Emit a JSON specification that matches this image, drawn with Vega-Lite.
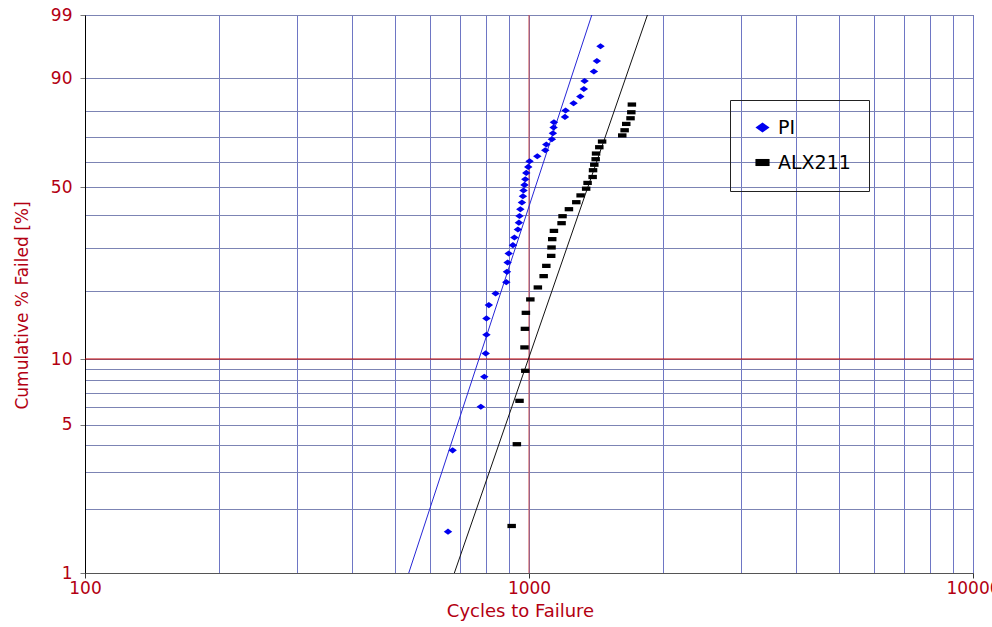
{
  "$schema": "https://vega.github.io/schema/vega-lite/v6.json",
  "width": 888,
  "height": 558,
  "autosize": "none",
  "padding": {"left": 85, "top": 15, "right": 19, "bottom": 54},
  "background": "white",
  "config": {
    "view": {"stroke": "#555555", "strokeWidth": 1},
    "font": "DejaVu Sans"
  },
  "datasets": {
    "points": [
      {"series": "PI", "cycles": 657, "failed": 1.57},
      {"series": "PI", "cycles": 673, "failed": 3.79},
      {"series": "PI", "cycles": 779, "failed": 6.05},
      {"series": "PI", "cycles": 793, "failed": 8.30},
      {"series": "PI", "cycles": 799, "failed": 10.60},
      {"series": "PI", "cycles": 802, "failed": 12.84},
      {"series": "PI", "cycles": 802, "failed": 15.17},
      {"series": "PI", "cycles": 812, "failed": 17.34},
      {"series": "PI", "cycles": 841, "failed": 19.46},
      {"series": "PI", "cycles": 889, "failed": 21.73},
      {"series": "PI", "cycles": 892, "failed": 23.99},
      {"series": "PI", "cycles": 895, "failed": 26.23},
      {"series": "PI", "cycles": 900, "failed": 28.52},
      {"series": "PI", "cycles": 920, "failed": 30.78},
      {"series": "PI", "cycles": 927, "failed": 32.98},
      {"series": "PI", "cycles": 944, "failed": 35.40},
      {"series": "PI", "cycles": 949, "failed": 37.55},
      {"series": "PI", "cycles": 952, "failed": 39.75},
      {"series": "PI", "cycles": 956, "failed": 42.07},
      {"series": "PI", "cycles": 964, "failed": 44.43},
      {"series": "PI", "cycles": 969, "failed": 46.72},
      {"series": "PI", "cycles": 972, "failed": 48.85},
      {"series": "PI", "cycles": 977, "failed": 50.97},
      {"series": "PI", "cycles": 981, "failed": 53.18},
      {"series": "PI", "cycles": 986, "failed": 55.65},
      {"series": "PI", "cycles": 996, "failed": 58.04},
      {"series": "PI", "cycles": 1003, "failed": 60.33},
      {"series": "PI", "cycles": 1044, "failed": 62.34},
      {"series": "PI", "cycles": 1088, "failed": 64.76},
      {"series": "PI", "cycles": 1094, "failed": 67.06},
      {"series": "PI", "cycles": 1126, "failed": 69.18},
      {"series": "PI", "cycles": 1132, "failed": 71.55},
      {"series": "PI", "cycles": 1136, "failed": 73.77},
      {"series": "PI", "cycles": 1138, "failed": 75.79},
      {"series": "PI", "cycles": 1205, "failed": 77.77},
      {"series": "PI", "cycles": 1209, "failed": 80.07},
      {"series": "PI", "cycles": 1260, "failed": 82.57},
      {"series": "PI", "cycles": 1305, "failed": 84.75},
      {"series": "PI", "cycles": 1329, "failed": 87.05},
      {"series": "PI", "cycles": 1334, "failed": 89.27},
      {"series": "PI", "cycles": 1400, "failed": 91.58},
      {"series": "PI", "cycles": 1422, "failed": 93.79},
      {"series": "PI", "cycles": 1449, "failed": 96.19},
      {"series": "ALX211", "cycles": 914, "failed": 1.67},
      {"series": "ALX211", "cycles": 939, "failed": 4.05},
      {"series": "ALX211", "cycles": 952, "failed": 6.44},
      {"series": "ALX211", "cycles": 981, "failed": 8.84},
      {"series": "ALX211", "cycles": 977, "failed": 11.28},
      {"series": "ALX211", "cycles": 979, "failed": 13.65},
      {"series": "ALX211", "cycles": 984, "failed": 16.05},
      {"series": "ALX211", "cycles": 1007, "failed": 18.35},
      {"series": "ALX211", "cycles": 1047, "failed": 20.64},
      {"series": "ALX211", "cycles": 1079, "failed": 23.03},
      {"series": "ALX211", "cycles": 1094, "failed": 25.40},
      {"series": "ALX211", "cycles": 1122, "failed": 27.89},
      {"series": "ALX211", "cycles": 1124, "failed": 30.14},
      {"series": "ALX211", "cycles": 1128, "failed": 32.49},
      {"series": "ALX211", "cycles": 1138, "failed": 34.96},
      {"series": "ALX211", "cycles": 1184, "failed": 37.39},
      {"series": "ALX211", "cycles": 1190, "failed": 39.68},
      {"series": "ALX211", "cycles": 1230, "failed": 42.07},
      {"series": "ALX211", "cycles": 1278, "failed": 44.54},
      {"series": "ALX211", "cycles": 1307, "failed": 47.02},
      {"series": "ALX211", "cycles": 1345, "failed": 49.53},
      {"series": "ALX211", "cycles": 1355, "failed": 51.74},
      {"series": "ALX211", "cycles": 1391, "failed": 54.04},
      {"series": "ALX211", "cycles": 1394, "failed": 56.72},
      {"series": "ALX211", "cycles": 1403, "failed": 58.92},
      {"series": "ALX211", "cycles": 1413, "failed": 61.14},
      {"series": "ALX211", "cycles": 1416, "failed": 63.43},
      {"series": "ALX211", "cycles": 1440, "failed": 65.98},
      {"series": "ALX211", "cycles": 1461, "failed": 68.26},
      {"series": "ALX211", "cycles": 1622, "failed": 70.69},
      {"series": "ALX211", "cycles": 1642, "failed": 72.72},
      {"series": "ALX211", "cycles": 1656, "failed": 75.15},
      {"series": "ALX211", "cycles": 1693, "failed": 77.28},
      {"series": "ALX211", "cycles": 1700, "failed": 79.46},
      {"series": "ALX211", "cycles": 1705, "failed": 82.14}
    ],
    "fit": [
      {"series": "PI", "cycles": 536, "failed": 1},
      {"series": "PI", "cycles": 1385, "failed": 99},
      {"series": "ALX211", "cycles": 679, "failed": 1},
      {"series": "ALX211", "cycles": 1848, "failed": 99}
    ],
    "refx": [{"cycles": 1000}],
    "refy": [{"failed": 10}]
  },
  "layer": [
    {
      "data": {"name": "refx"},
      "mark": {"type": "rule", "color": "#c84a4a", "strokeWidth": 1},
      "encoding": {
        "x": {"field": "cycles", "type": "quantitative"}
      }
    },
    {
      "data": {"name": "refy"},
      "transform": [{"calculate": "log(-log(1 - datum.failed / 100))", "as": "w"}],
      "mark": {"type": "rule", "color": "#c00000", "strokeWidth": 1},
      "encoding": {
        "y": {"field": "w", "type": "quantitative"}
      }
    },
    {
      "data": {"name": "fit"},
      "transform": [
        {"filter": "datum.series === 'PI'"},
        {"calculate": "log(-log(1 - datum.failed / 100))", "as": "w"}
      ],
      "mark": {"type": "line", "strokeWidth": 1, "color": "#2626d6", "clip": true},
      "encoding": {
        "x": {
          "field": "cycles", "type": "quantitative",
          "scale": {"type": "log", "domain": [100, 10000], "nice": false},
          "axis": {
            "values": [100, 200, 300, 400, 500, 600, 700, 800, 900, 1000, 2000, 3000, 4000, 5000, 6000, 7000, 8000, 9000, 10000],
            "tickCount": 60,
            "labelExpr": "(datum.value == 100 || datum.value == 1000 || datum.value == 10000) ? ('' + datum.value) : ''",
            "grid": true,
            "gridColor": "#6e76c4",
            "gridWidth": 1,
            "gridOpacity": 1,
            "tickOpacity": {"condition": {"test": "datum.value == 100 || datum.value == 1000 || datum.value == 10000", "value": 1}, "value": 0},
            "tickColor": "#333333",
            "tickSize": 5,
            "domainColor": "#555555",
            "labelColor": "#b30012",
            "labelFont": "DejaVu Sans",
            "labelFontSize": 17,
            "labelPadding": 2,
            "labelOverlap": false,
            "labelFlush": false,
            "labelBound": false,
            "title": "Cycles to Failure",
            "titleColor": "#b30012",
            "titleFont": "DejaVu Sans",
            "titleFontSize": 18,
            "titleFontWeight": "normal",
            "titleX": 435,
            "titleY": 29,
            "titleAlign": "center",
            "titleBaseline": "top"
          }
        },
        "y": {
          "field": "w", "type": "quantitative",
          "scale": {"domain": [-4.60015, 1.52718], "nice": false, "zero": false},
          "axis": {
            "values": [-4.60015, -3.90194, -3.49137, -3.19853, -2.9702, -2.78263, -2.62319, -2.48432, -2.36116, -2.25037, -1.49994, -1.03093, -0.67173, -0.36651, -0.08742, 0.18563, 0.47588, 0.83403, 1.52718],
            "tickCount": 60,
            "labelExpr": "(abs(datum.value + 4.60015) < 0.001 || abs(datum.value + 2.9702) < 0.001 || abs(datum.value + 2.25037) < 0.001 || abs(datum.value + 0.36651) < 0.001 || abs(datum.value - 0.83403) < 0.001 || abs(datum.value - 1.52718) < 0.001) ? ('' + round(100 * (1 - exp(-exp(datum.value))))) : ''",
            "grid": true,
            "gridColor": "#7c84b4",
            "gridWidth": 1,
            "gridOpacity": 1,
            "tickOpacity": {"condition": {"test": "abs(datum.value + 4.60015) < 0.001 || abs(datum.value + 2.9702) < 0.001 || abs(datum.value + 2.25037) < 0.001 || abs(datum.value + 0.36651) < 0.001 || abs(datum.value - 0.83403) < 0.001 || abs(datum.value - 1.52718) < 0.001", "value": 1}, "value": 0},
            "tickColor": "#777777",
            "tickSize": 5,
            "domainColor": "#000000",
            "labelColor": "#b30012",
            "labelFont": "DejaVu Sans",
            "labelFontSize": 17,
            "labelPadding": 8,
            "labelOverlap": false,
            "labelFlush": false,
            "labelBound": false,
            "title": "Cumulative % Failed [%]",
            "titleColor": "#b30012",
            "titleFont": "DejaVu Sans",
            "titleFontSize": 17,
            "titleFontWeight": "normal",
            "titleX": -63,
            "titleY": 290,
            "titleAngle": -90,
            "titleAlign": "center",
            "titleBaseline": "middle"
          }
        }
      }
    },
    {
      "data": {"name": "fit"},
      "transform": [
        {"filter": "datum.series === 'ALX211'"},
        {"calculate": "log(-log(1 - datum.failed / 100))", "as": "w"}
      ],
      "mark": {"type": "line", "strokeWidth": 1, "color": "#111111", "clip": true},
      "encoding": {
        "x": {"field": "cycles", "type": "quantitative"},
        "y": {"field": "w", "type": "quantitative"}
      }
    },
    {
      "data": {"name": "points"},
      "transform": [{"calculate": "log(-log(1 - datum.failed / 100))", "as": "w"}],
      "mark": {"type": "point", "filled": true, "opacity": 1, "size": 72, "strokeWidth": 0},
      "encoding": {
        "x": {"field": "cycles", "type": "quantitative"},
        "y": {"field": "w", "type": "quantitative"},
        "color": {
          "field": "series", "type": "nominal",
          "scale": {"domain": ["PI", "ALX211"], "range": ["#0000f0", "#000000"]},
          "legend": {
            "title": null,
            "orient": "none",
            "legendX": 645,
            "legendY": 85,
            "direction": "vertical",
            "strokeColor": "#222222",
            "padding": 18,
            "rowPadding": 15,
            "symbolSize": 200,
            "symbolStrokeWidth": 0,
            "symbolOffset": 5,
            "labelFont": "DejaVu Sans",
            "labelFontSize": 19,
            "labelOffset": 6,
            "labelColor": "#000000",
            "labelExpr": "datum.label + '\u00a0\u00a0\u00a0'",
            "encode": {
              "labels": {"update": {"fill": {"signal": "datum.value === 'PI' ? '#0000f0' : '#000000'"}}}
            }
          }
        },
        "shape": {
          "field": "series", "type": "nominal",
          "scale": {"domain": ["PI", "ALX211"], "range": ["M-1,0L0,-0.72L1,0L0,0.72Z", "M-1,-0.5H1V0.5H-1Z"]}
        }
      }
    }
  ]
}
